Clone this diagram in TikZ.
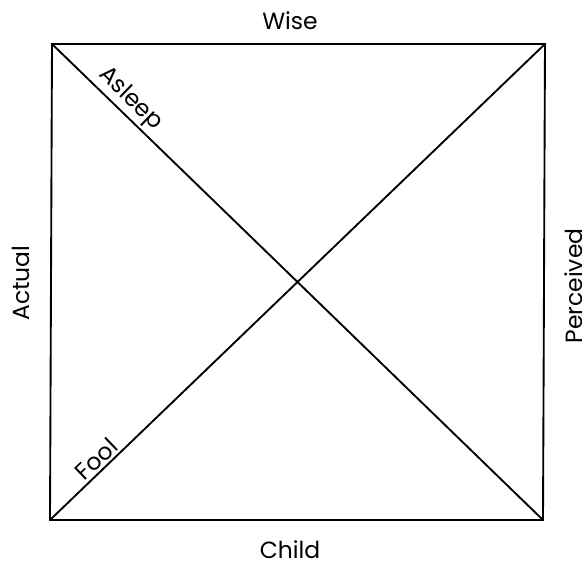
\documentclass[tikz,border=0pt]{standalone}
\usepackage{fontspec}
\setmainfont{Poppins}
\usetikzlibrary{positioning}

\begin{document}
\begin{tikzpicture}[x=0.03cm,y=0.03cm]
 \tikzstyle{edge}=[line width=1.6pt]
 \tikzstyle{lab}=[font=\fontsize{20}{24}\selectfont, inner sep=1pt]
  \useasboundingbox (0,0) rectangle (582,568);
  \coordinate (BL) at (50,48);
  \coordinate (BR) at (543,48);
  \coordinate (TR) at (545,524);
  \coordinate (TL) at (52,524);
  \draw[edge] (BL) -- (BR) -- (TR) -- (TL) -- cycle;
  \draw[edge] (TL) -- (BR) node[lab,pos=0.138,sloped,above=1pt]{Asleep};
  \draw[edge] (BL) -- (TR) node[lab,pos=0.11,sloped,above=1pt]{Fool};
  \node[lab] (wise) at (290,547) {Wise};
  \node[lab] (child) at (290,18) {Child};
  \node[lab,rotate=90] (actual) at (21,285) {Actual};
  \node[lab,rotate=90] (perc) at (574,282) {Perceived};
\end{tikzpicture}
\end{document}
